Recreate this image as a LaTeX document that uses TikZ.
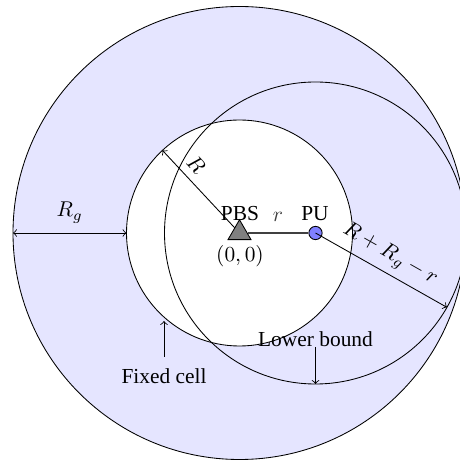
\documentclass[tikz,border=0pt]{standalone}
\usepackage{fontspec}
\setmainfont{Liberation Serif}
\usetikzlibrary{calc,shapes.geometric}
\begin{document}
\begin{tikzpicture}[x=0.4673pt,y=0.4673pt,
  every node/.style={font=\fontsize{10}{12}\selectfont},
  ring/.style={draw=black, line width=0.4pt},
  dimarrow/.style={->, line width=0.4pt},
  bsnode/.style={regular polygon, regular polygon sides=3, draw=black, fill=gray, inner sep=0pt, minimum size=12.4pt},
  punode/.style={circle, draw=black, fill=blue!50, inner sep=0pt, minimum size=6.2pt}]
\useasboundingbox (0,0) rectangle (459,461);
\coordinate (O) at (239.5,228);
\coordinate (P) at (315.5,228);
% regions
\filldraw[ring, fill=blue!10] (O) circle (226.5);
\filldraw[ring, fill=white] (O) circle (113);
\draw[ring] (P) circle (151);
% helper points
\coordinate (gl) at ($(O)+(180:226.5)$);
\coordinate (gr) at ($(O)+(180:113)$);
\coordinate (rt) at ($(O)+(133:113)$);
\coordinate (pt) at ($(P)+(-29.5:151)$);
\coordinate (lbt) at ($(P)+(0,-151)$);
\coordinate (fct) at (164,140);
% dimension arrows
\draw[<->, line width=0.4pt] (gl) -- node[anchor=base, yshift=7.5pt] {$R_g$} (gr);
\draw[dimarrow] (O) -- node[pos=0.7, sloped, above] {$R$} (rt);
% nodes
\node[bsnode] (pbs) at (O) {};
\node[punode] (pu) at (P) {};
\draw[black!75, line width=0.5pt] (pbs) -- node[midway, anchor=base, yshift=5.6pt] (rl) {$r$} (pu);
\draw[dimarrow] (pu.center) -- node[midway, sloped, above] {$R+R_g-r$} (pt);
\node[anchor=base] (pbsl) at (240,240) {PBS};
\node[anchor=base] (pul) at (315,240) {PU};
\node (orig) at (240,204.5) {$(0,0)$};
% annotations
\node[inner xsep=0pt, inner ysep=5.6pt] (fixed) at (164,84.5) {Fixed cell};
\draw[dimarrow] (fixed.north) -- (fct);
\node[inner sep=0pt, anchor=south] (lb) at (315.5,114) {Lower bound};
\draw[dimarrow] (lb.south) -- (lbt);
\end{tikzpicture}
\end{document}
